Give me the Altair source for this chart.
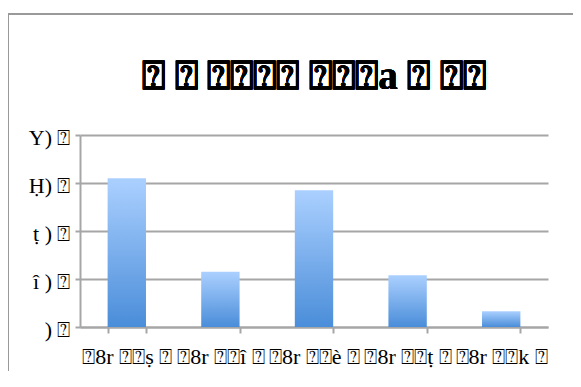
import json
import altair as alt
import pandas as pd

B = "\u2370"  # box with a question mark, as the missing glyphs show in the reference

title_text = f"{B} {B} {B}{B}{B}{B} {B}{B}{B}a {B} {B}{B}"
categories = [
    f"{B}8r {B}{B}ṣ {B}",
    f"{B}8r {B}{B}î {B}",
    f"{B}8r {B}{B}è {B}",
    f"{B}8r {B}{B}ṭ {B}",
    f"{B}8r {B}{B}k {B}",
]
values = [3.1, 1.15, 2.85, 1.08, 0.33]
ytick_values = [0, 1, 2, 3, 4]
ytick_labels = [f") {B}", f"î ) {B}", f"ṭ ) {B}", f"Ḥ) {B}", f"Y) {B}"]

df = pd.DataFrame({"cat": categories, "val": values})

FONT = "Liberation Serif"
GRID = "#a6a6a6"

grad = alt.Gradient(
    gradient="linear",
    stops=[alt.GradientStop(color="#4a8dd9", offset=0),
           alt.GradientStop(color="#abd0ff", offset=1)],
    x1=1, x2=1, y1=1, y2=0,
)

label_expr = json.dumps(ytick_labels, ensure_ascii=False) + "[datum.value]"

bars = alt.Chart(df).mark_bar(color=grad).encode(
    x=alt.X("cat:N", sort=categories, title=None,
            scale=alt.Scale(paddingInner=0.59, paddingOuter=0.295),
            axis=alt.Axis(labelAngle=0, labelFont=FONT, labelFontSize=22,
                          labelColor="black", labelPadding=13,
                          labelOverlap=False, labelBound=False,
                          tickBand="extent", tickColor=GRID, tickSize=6,
                          tickWidth=2, domainColor=GRID, domainWidth=2,
                          grid=False)),
    y=alt.Y("val:Q", title=None,
            scale=alt.Scale(domain=[0, 4], nice=False),
            axis=alt.Axis(values=ytick_values, labelExpr=label_expr,
                          labelFont=FONT, labelFontSize=22, labelColor="black",
                          labelPadding=5, labelOverlap=False, labelBound=False,
                          labelOffset=2,
                          tickColor=GRID, tickSize=5,
                          tickWidth=2, domainColor=GRID, domainWidth=2,
                          gridColor=GRID, gridWidth=2, gridOpacity=1)),
)

title = alt.Chart(df).mark_text(
    font=FONT, fontSize=39, fontWeight="bold", color="black",
    align="center", baseline="alphabetic",
).encode(x=alt.value(234), y=alt.value(-46), text=alt.value(title_text))

border_top = alt.Chart(df).mark_rule(color="#999999", strokeWidth=2).encode(
    x=alt.value(-72), x2=alt.value(520), y=alt.value(-121))
border_left = alt.Chart(df).mark_rule(color="#999999", strokeWidth=2).encode(
    x=alt.value(-72), y=alt.value(-121), y2=alt.value(260))

chart = alt.layer(bars, title, border_top, border_left).properties(
    width=468,
    height=192,
    autosize=alt.AutoSizeParams(type="none"),
    padding={"left": 72, "top": 127, "right": 25, "bottom": 44},
).configure_view(stroke=None)

chart.save("out.html", embed_options={"renderer": "svg", "actions": False})
